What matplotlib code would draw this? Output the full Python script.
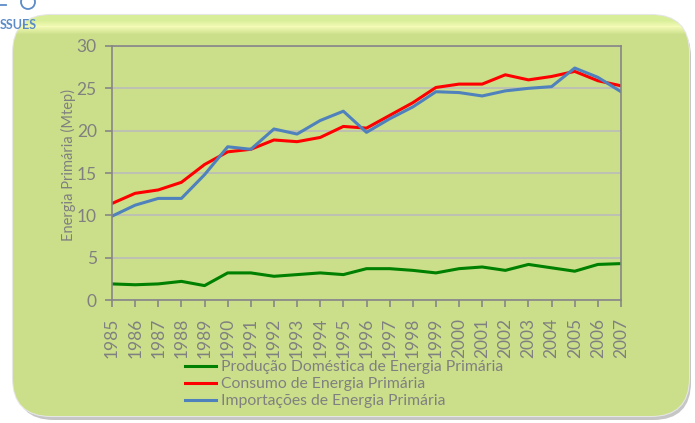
import numpy as np
import matplotlib
matplotlib.use("Agg")
import matplotlib.pyplot as plt
from matplotlib.patches import FancyBboxPatch, Circle

# data (Mtep)
years = list(range(1985, 2008))
producao = [1.9, 1.8, 1.9, 2.2, 1.7, 3.2, 3.2, 2.8, 3.0, 3.2, 3.0,
            3.7, 3.7, 3.5, 3.2, 3.7, 3.9, 3.5, 4.2, 3.8, 3.4, 4.2, 4.3]
consumo = [11.4, 12.6, 13.0, 13.9, 16.0, 17.5, 17.8, 18.9, 18.7, 19.2, 20.5,
           20.3, 21.8, 23.3, 25.1, 25.5, 25.5, 26.6, 26.0, 26.4, 27.0, 25.9, 25.3]
importacoes = [9.9, 11.2, 12.0, 12.0, 14.8, 18.1, 17.8, 20.2, 19.6, 21.2, 22.3,
               19.8, 21.4, 22.8, 24.6, 24.5, 24.1, 24.7, 25.0, 25.2, 27.4, 26.3, 24.6]
labels = ["Produção Doméstica de Energia Primária",
          "Consumo de Energia Primária",
          "Importações de Energia Primária"]
colors = ["#008000", "#ff0000", "#4f81bd"]

W, H = 695, 423
txt = "#808080"
plt.rcParams['font.family'] = ['Lato', 'DejaVu Sans']

fig = plt.figure(figsize=(W / 100, H / 100), dpi=100)
fig.patch.set_facecolor("white")

# background panel (pixel coordinates, y downwards)
bg = fig.add_axes([0, 0, 1, 1])
bg.set_xlim(0, W)
bg.set_ylim(H, 0)
bg.axis("off")

shadow = FancyBboxPatch((16, 19), 675, 401, boxstyle="round,pad=0,rounding_size=38",
                        fc="#a0a0a0", ec="none", alpha=0.6)
bg.add_patch(shadow)
box = FancyBboxPatch((13, 15), 676, 401, boxstyle="round,pad=0,rounding_size=38",
                     fc="#cbdf8a", ec="#e6e6e6", lw=1.5)
bg.add_patch(box)

# vertical gradient: light yellow band at the top
grad = np.ones((H, 1, 3))
top = np.array([0xd8, 0xee, 0x98]) / 255
pale = np.array([0xf4, 0xfb, 0xb6]) / 255
green = np.array([0xcb, 0xdf, 0x8a]) / 255
for i in range(H):
    if i < 20:
        grad[i, 0] = top
    elif i < 26:
        t = (i - 20) / 6
        grad[i, 0] = top * (1 - t) + pale * t
    elif i < 34:
        t = (i - 26) / 8
        grad[i, 0] = pale * (1 - t) + green * t
    else:
        grad[i, 0] = green
im = bg.imshow(grad, extent=[0, W, H, 0], aspect="auto", zorder=2)
im.set_clip_path(box)

# logo fragment top-left
bg.text(0, 25, "SSUES", color="#5b8cc8", fontsize=9, fontweight="bold",
        va="center", ha="left", zorder=3)
bg.add_patch(Circle((28, 2), 7, fc="none", ec="#5b8cc8", lw=1.3, zorder=3))
bg.plot([0, 6], [5, 5], color="#5b8cc8", lw=1.3, zorder=3)

# chart
ax = fig.add_axes([112 / W, 1 - 300 / H, (621 - 112) / W, (300 - 46) / H])
ax.set_facecolor("none")
for vals, lab, c in zip([producao, consumo, importacoes], labels, colors):
    ax.plot(years, vals, color=c, lw=2.2, label=lab, solid_joinstyle="round")

ax.set_xlim(1985, 2007)
ax.set_ylim(0, 30)
ax.set_yticks(range(0, 31, 5))
ax.set_xticks(years)
ax.set_xticklabels([str(y) for y in years], rotation=90)
ax.yaxis.grid(True, color="#b9bcb9", lw=1.2)
ax.set_axisbelow(True)
for s in ax.spines.values():
    s.set_color("#868686")
    s.set_linewidth(1.2)
ax.tick_params(colors="#868686", labelcolor=txt, labelsize=12.5, length=5, width=1.2)
ax.tick_params(axis="x", pad=8)
ax.tick_params(axis="y", pad=6)
ax.set_ylabel("Energia Primária (Mtep)", color=txt, fontsize=10.5)
ax.yaxis.set_label_coords(-0.07, 0.53)

leg = ax.legend(loc="upper left", bbox_to_anchor=(185 / W, 1 - 360 / H),
                bbox_transform=fig.transFigure, frameon=False, fontsize=11.3,
                handlelength=2.0, handletextpad=0.3, labelspacing=0.2,
                borderaxespad=0, borderpad=0)
for t in leg.get_texts():
    t.set_color(txt)

fig.savefig("out.png", dpi=100)
